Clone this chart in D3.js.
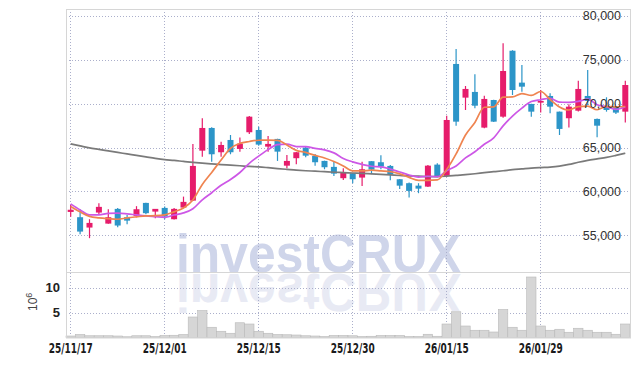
<!DOCTYPE html>
<html>
<head>
<meta charset="utf-8">
<script src="https://cdn.jsdelivr.net/npm/d3@7"></script>
<style>
  body { margin: 0; background: #fff; }
  svg { display: block; }
</style>
</head>
<body>
<div id="chart"></div>
<script>
// trading days (yy/mm/dd)
const dates = [
  "25/11/17","25/11/18","25/11/19","25/11/20","25/11/21","25/11/24","25/11/25","25/11/26","25/11/27","25/11/28",
  "25/12/01","25/12/02","25/12/03","25/12/04","25/12/05","25/12/08","25/12/09","25/12/10","25/12/11","25/12/12",
  "25/12/15","25/12/16","25/12/17","25/12/18","25/12/19","25/12/22","25/12/23","25/12/24","25/12/26","25/12/29",
  "25/12/30","26/01/02","26/01/05","26/01/06","26/01/07","26/01/08","26/01/09","26/01/12","26/01/13","26/01/14",
  "26/01/15","26/01/16","26/01/19","26/01/20","26/01/21","26/01/22","26/01/23","26/01/26","26/01/27","26/01/28",
  "26/01/29","26/01/30","26/02/02","26/02/03","26/02/04","26/02/05","26/02/06","26/02/09","26/02/10","26/02/11"
];
const tickDates = ["25/11/17","25/12/01","25/12/15","25/12/30","26/01/15","26/01/29"];
const priceTicks = [55000, 60000, 65000, 70000, 75000, 80000];
const volTicks = [5, 10];

const opens  = [57650,57050,55870,57580,56320,58000,57050,57200,58680,57690,
                58110,56820,58150,58940,64640,67230,64460,65860,64840,66740,
                67000,65100,65980,62930,63780,64990,64040,63470,62790,61500,
                62070,61570,63440,63320,62900,61380,60930,60650,60540,63050,
                61760,74530,70690,71340,67270,70420,68520,76040,72400,69970,
                70120,70880,69090,68340,69200,70880,68260,69740,69660,69090];
const highs  = [58450,57960,56820,58650,57960,58110,57310,58310,58700,58000,
                58260,58100,59400,65410,68340,67300,65670,66430,66130,68600,
                67380,66320,66000,64150,64500,65100,64270,63500,63390,62640,
                62100,63390,63450,64120,63000,61400,61000,60930,63000,63210,
                68630,76240,72020,73350,70910,70450,76890,76100,74410,70000,
                71560,71190,69100,69930,72620,73840,68300,70730,69700,72620];
const lows   = [57090,55110,54660,57350,56290,55910,56250,57050,57400,56940,
                56820,56800,58080,58900,63960,63390,63960,64230,64530,66550,
                65200,64530,63470,62640,63090,63900,62930,62520,61760,61300,
                60930,60620,61990,62520,61270,60280,59290,59790,60500,61600,
                61650,67490,69280,69480,67200,67900,68400,70990,71370,68520,
                68980,68910,66430,67270,69100,69850,66170,69090,68830,67840];
const closes = [57900,55410,56400,58230,57050,56100,56660,57960,57510,58000,
                57120,58000,58800,62900,67230,64230,65290,64460,65440,68520,
                65330,65410,64530,63470,64460,64070,63320,62750,62020,62140,
                61380,62520,62480,62820,61910,60650,60050,60310,62930,61680,
                68140,67950,71680,69770,70540,67950,73730,71560,71940,69090,
                70310,69660,67120,69660,71680,70310,67490,69280,68980,72130];
// volume, millions
const volume = [0.3,0.6,0.35,0.35,0.35,0.3,0.15,0.35,0.35,0.2,
                0.4,0.45,0.6,4.1,5.4,2.05,1.25,0.85,2.95,2.7,
                1.25,0.85,0.6,0.55,0.5,0.35,0.3,0.2,0.4,0.4,
                0.35,0.2,0.25,0.4,0.4,0.4,0.2,0.2,0.65,0.25,
                2.7,5.15,2.3,1.45,1.45,1.1,5.6,2.05,1.45,12.1,
                2.3,1.45,1.65,1.05,1.85,1.45,1.05,1.05,0.65,2.7];
// moving averages
const ma5  = [58280,57660,57140,56970,56880,56820,56970,57090,57200,57220,
              57310,57660,58110,59020,60790,62160,63580,64900,65470,65690,
              65830,65840,65820,65290,64670,64440,64100,63810,63410,62900,
              62330,62330,62410,62330,62250,62000,61590,61250,61250,61300,
              62500,64270,66430,67860,69590,69630,70740,70770,71150,70940,
              71390,70480,69630,69280,69670,69710,69310,69680,69630,69680];
const ma10 = [58570,57880,57310,57310,57490,57510,57430,57310,57200,57120,
              57040,57300,57540,58010,59030,59840,60700,61350,62150,63200,
              64020,64760,65330,65390,65110,65100,64900,64730,64390,63750,
              63360,63070,62860,62800,62540,62200,61870,61630,61720,61670,
              62350,62890,63810,64510,65370,66100,67470,68590,69500,70240,
              70450,70620,70170,70160,70270,70510,69880,69650,69360,69660];
const ma60 = [65410,65180,64950,64780,64610,64440,64270,64100,63930,63760,
              63620,63530,63410,63300,63210,63130,63050,62990,62920,62840,
              62790,62700,62600,62510,62420,62350,62300,62240,62180,62140,
              62090,62050,61990,61930,61870,61810,61760,61730,61690,61680,
              61730,61820,61910,62010,62130,62240,62350,62470,62560,62650,
              62710,62760,62870,63070,63320,63530,63700,63870,64100,64350];

const W = 639, H = 366;
const plotLeft = 66, plotRight = 630, plotTop = 9, split = 272, plotBottom = 337.5;
const upColor = "#e61c6b", downColor = "#2c95c8";
const gridColor = "#abafcb", frameColor = "#d6d6d6";

const svg = d3.select("#chart").append("svg")
  .attr("width", W).attr("height", H)
  .style("font-family", "'Liberation Sans', Arial, sans-serif");

const x = d3.scaleBand().domain(dates).range([plotLeft, plotRight]);
const cx = d => x(d) + x.bandwidth() / 2;
const yP = d3.scaleLinear().domain([50800, 80800]).range([split, plotTop]);
const yV = d3.scaleLinear().domain([0, 13.1]).range([plotBottom, split]);

// watermark + reflection
const wm = svg.append("g").attr("class", "watermark");
wm.append("text")
  .attr("x", 176).attr("y", 272)
  .attr("textLength", 285).attr("lengthAdjust", "spacingAndGlyphs")
  .attr("font-size", 54).attr("font-weight", "bold")
  .attr("fill", "#cfd5ea")
  .text("investCRUX");
wm.append("text")
  .attr("transform", "translate(0,546) scale(1,-1)")
  .attr("x", 176).attr("y", 272)
  .attr("textLength", 285).attr("lengthAdjust", "spacingAndGlyphs")
  .attr("font-size", 54).attr("font-weight", "bold")
  .attr("fill", "#e8eaf4")
  .text("investCRUX");

// grid: dotted horizontals (price + volume) and verticals at the date ticks
const hGrid = priceTicks.map(d => yP(d)).concat(volTicks.map(d => yV(d)))
  .map(v => Math.round(v) + 0.5);
const grid = svg.append("g").attr("class", "grid")
  .attr("stroke", gridColor)
  .attr("stroke-dasharray", "1,2");
grid.selectAll("line.h").data(hGrid).join("line")
  .attr("class", "h")
  .attr("x1", plotLeft).attr("x2", plotRight)
  .attr("y1", d => d).attr("y2", d => d);
grid.selectAll("line.v").data(tickDates).join("line")
  .attr("class", "v")
  .attr("x1", d => Math.round(cx(d)) - 0.5).attr("x2", d => Math.round(cx(d)) - 0.5)
  .attr("y1", plotTop).attr("y2", plotBottom);

// volume bars
svg.append("g").selectAll("rect").data(dates).join("rect")
  .attr("x", d => x(d))
  .attr("width", x.bandwidth())
  .attr("y", (d, i) => yV(volume[i]))
  .attr("height", (d, i) => plotBottom - yV(volume[i]))
  .attr("fill", "#d6d6d6")
  .attr("stroke", "#b9b9b9")
  .attr("stroke-width", 0.6);

// candles
const candles = svg.append("g").selectAll("g").data(dates).join("g");
const col = i => closes[i] >= opens[i] ? upColor : downColor;
candles.append("line")
  .attr("x1", d => cx(d)).attr("x2", d => cx(d))
  .attr("y1", (d, i) => yP(highs[i])).attr("y2", (d, i) => yP(lows[i]))
  .attr("stroke", (d, i) => col(i)).attr("stroke-width", 1.2);
candles.append("rect")
  .attr("x", d => cx(d) - 3)
  .attr("width", 6)
  .attr("y", (d, i) => yP(Math.max(opens[i], closes[i])))
  .attr("height", (d, i) => Math.max(1.5, Math.abs(yP(opens[i]) - yP(closes[i]))))
  .attr("fill", (d, i) => col(i));

// moving averages
const maLine = arr => d3.line()
  .x((d, i) => cx(dates[i]))
  .y(d => yP(d))
  .curve(d3.curveMonotoneX)(arr);
[[ma60, "#7a7a7a"], [ma10, "#cd57e6"], [ma5, "#ef8450"]].forEach(([arr, c]) => {
  svg.append("path")
    .attr("d", maLine(arr))
    .attr("fill", "none")
    .attr("stroke", c)
    .attr("stroke-width", 1.7);
});

// frame
svg.append("rect")
  .attr("x", plotLeft + 0.5).attr("y", plotTop + 0.5)
  .attr("width", plotRight - plotLeft).attr("height", plotBottom - plotTop)
  .attr("fill", "none").attr("stroke", frameColor);
svg.append("line")
  .attr("x1", plotLeft).attr("x2", plotRight)
  .attr("y1", split + 0.5).attr("y2", split + 0.5)
  .attr("stroke", frameColor);

// price labels (inside, right)
svg.append("g").selectAll("text").data(priceTicks).join("text")
  .attr("x", 621).attr("y", d => yP(d))
  .attr("dy", "0.35em")
  .attr("text-anchor", "end")
  .attr("font-size", 12.5)
  .attr("fill", "#333")
  .text(d => d3.format(",")(d));

// volume labels
svg.append("g").selectAll("text").data(volTicks).join("text")
  .attr("x", 60).attr("y", d => yV(d))
  .attr("dy", "0.35em")
  .attr("text-anchor", "end")
  .attr("font-size", 13)
  .attr("font-weight", "bold")
  .attr("fill", "#222")
  .text(d => d);

const unit = svg.append("text")
  .attr("transform", "translate(37,311) rotate(-90)")
  .attr("font-size", 12)
  .attr("fill", "#444");
unit.append("tspan").text("10");
unit.append("tspan").attr("dy", -5).attr("font-size", 9).text("6");

// x axis
const xAxis = d3.axisBottom(x).tickValues(tickDates).tickSize(0).tickPadding(6);
const gx = svg.append("g")
  .attr("transform", `translate(0,${plotBottom})`)
  .call(xAxis);
gx.select(".domain").remove();
gx.selectAll("text")
  .attr("font-family", "'Liberation Sans Narrow', 'DejaVu Sans Condensed', sans-serif")
  .attr("font-size", 13.5)
  .attr("font-weight", "bold")
  .attr("fill", "#1a1a1a")
  .attr("textLength", 44)
  .attr("lengthAdjust", "spacingAndGlyphs");
</script>
</body>
</html>
